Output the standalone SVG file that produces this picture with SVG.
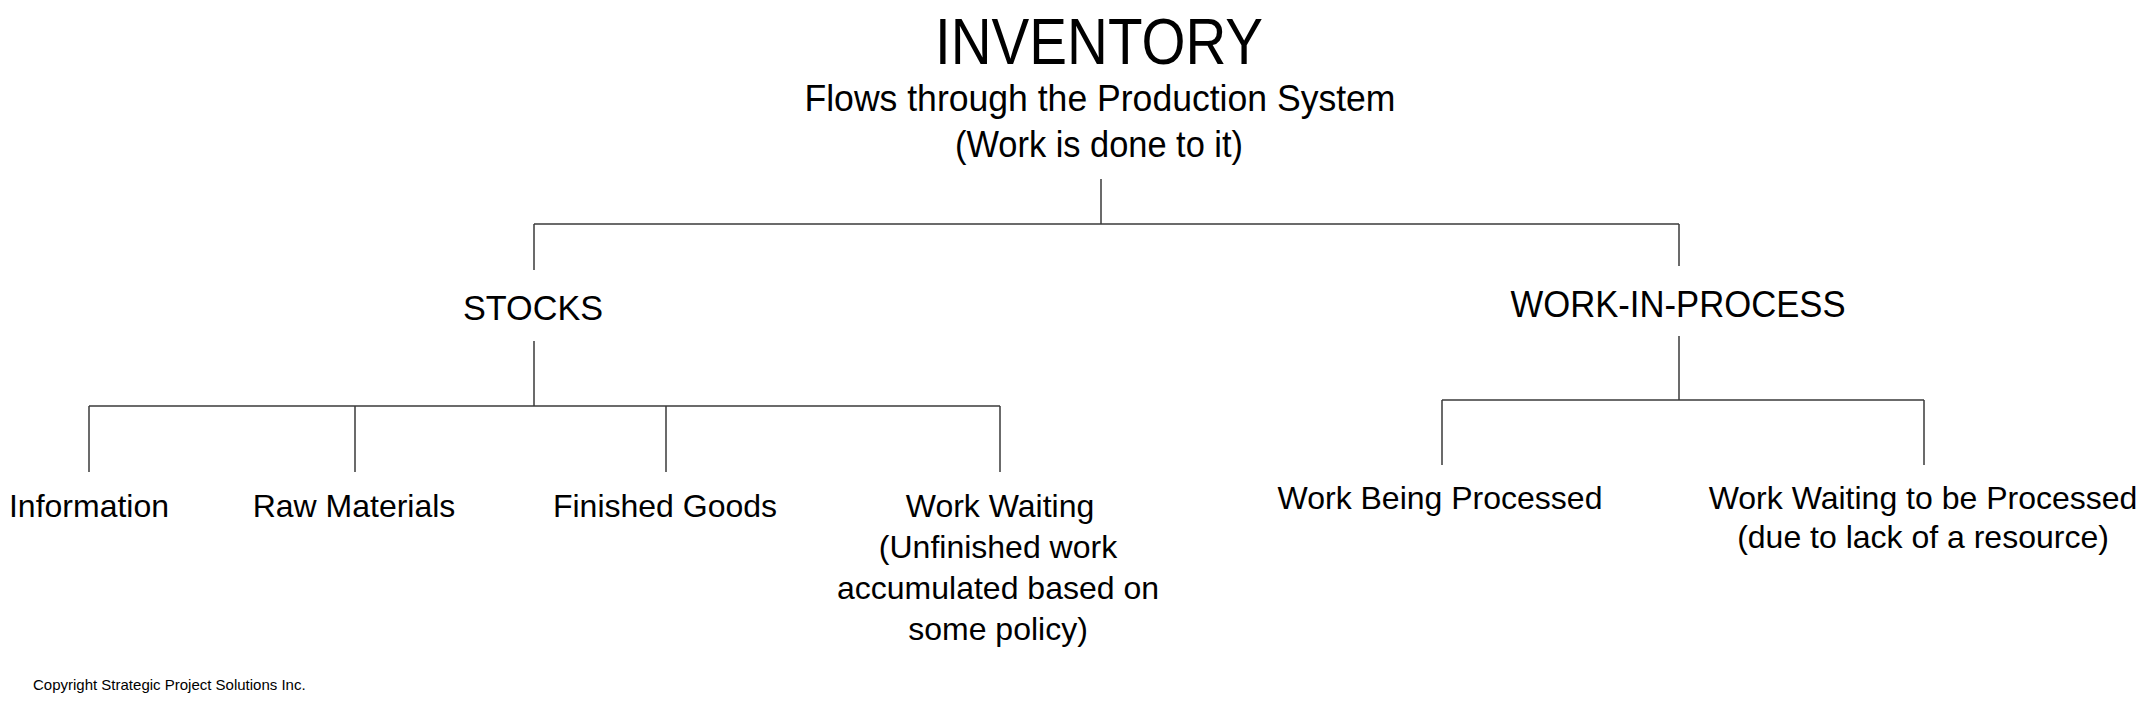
<svg xmlns="http://www.w3.org/2000/svg" width="2156" height="716" viewBox="0 0 2156 716">
<style>
  text { font-family: "Liberation Sans", Arial, Helvetica, sans-serif; fill: #000; }
  .lbl { font-size: 32px; text-anchor: middle; }
  .hd { text-anchor: middle; }
  .conn line { stroke: #3a3a3a; stroke-width: 1.5; fill: none; }
  .copy { font-size: 15px; }
</style>
<rect width="2156" height="716" fill="#fff"/>
<g id="connectors" class="conn">
  <line x1="1101" y1="179" x2="1101" y2="224"/>
  <line x1="534" y1="224" x2="1679" y2="224"/>
  <line x1="534" y1="224" x2="534" y2="270"/>
  <line x1="1679" y1="224" x2="1679" y2="266"/>
  <line x1="534" y1="341" x2="534" y2="406"/>
  <line x1="89" y1="406" x2="1000" y2="406"/>
  <line x1="89" y1="406" x2="89" y2="472"/>
  <line x1="355" y1="406" x2="355" y2="472"/>
  <line x1="666" y1="406" x2="666" y2="472"/>
  <line x1="1000" y1="406" x2="1000" y2="472"/>
  <line x1="1679" y1="336" x2="1679" y2="400"/>
  <line x1="1442" y1="400" x2="1924" y2="400"/>
  <line x1="1442" y1="400" x2="1442" y2="465"/>
  <line x1="1924" y1="400" x2="1924" y2="465"/>
</g>
<g id="node-inventory">
  <text class="hd" x="1099" y="64" font-size="64" textLength="328" lengthAdjust="spacingAndGlyphs">INVENTORY</text>
  <text class="hd" x="1100" y="111" font-size="36" textLength="591" lengthAdjust="spacingAndGlyphs">Flows through the Production System</text>
  <text class="hd" x="1099" y="157" font-size="37" textLength="288" lengthAdjust="spacingAndGlyphs">(Work is done to it)</text>
</g>
<g id="node-stocks">
  <text class="hd" x="533" y="320" font-size="35" textLength="140" lengthAdjust="spacingAndGlyphs">STOCKS</text>
</g>
<g id="node-wip">
  <text class="hd" x="1678" y="317" font-size="36" textLength="335" lengthAdjust="spacingAndGlyphs">WORK-IN-PROCESS</text>
</g>
<g id="node-information">
  <text class="lbl" x="89" y="517">Information</text>
</g>
<g id="node-raw-materials">
  <text class="lbl" x="354" y="517">Raw Materials</text>
</g>
<g id="node-finished-goods">
  <text class="lbl" x="665" y="517">Finished Goods</text>
</g>
<g id="node-work-waiting">
  <text class="lbl" x="1000" y="517">Work Waiting</text>
  <text class="lbl" x="998" y="558">(Unfinished work</text>
  <text class="lbl" x="998" y="599">accumulated based on</text>
  <text class="lbl" x="998" y="640">some policy)</text>
</g>
<g id="node-work-being-processed">
  <text class="lbl" x="1440" y="509">Work Being Processed</text>
</g>
<g id="node-work-waiting-processed">
  <text class="lbl" x="1923" y="509">Work Waiting to be Processed</text>
  <text class="lbl" x="1923" y="548">(due to lack of a resource)</text>
</g>
<g id="copyright">
  <text class="copy" x="33" y="690">Copyright Strategic Project Solutions Inc.</text>
</g>
</svg>
